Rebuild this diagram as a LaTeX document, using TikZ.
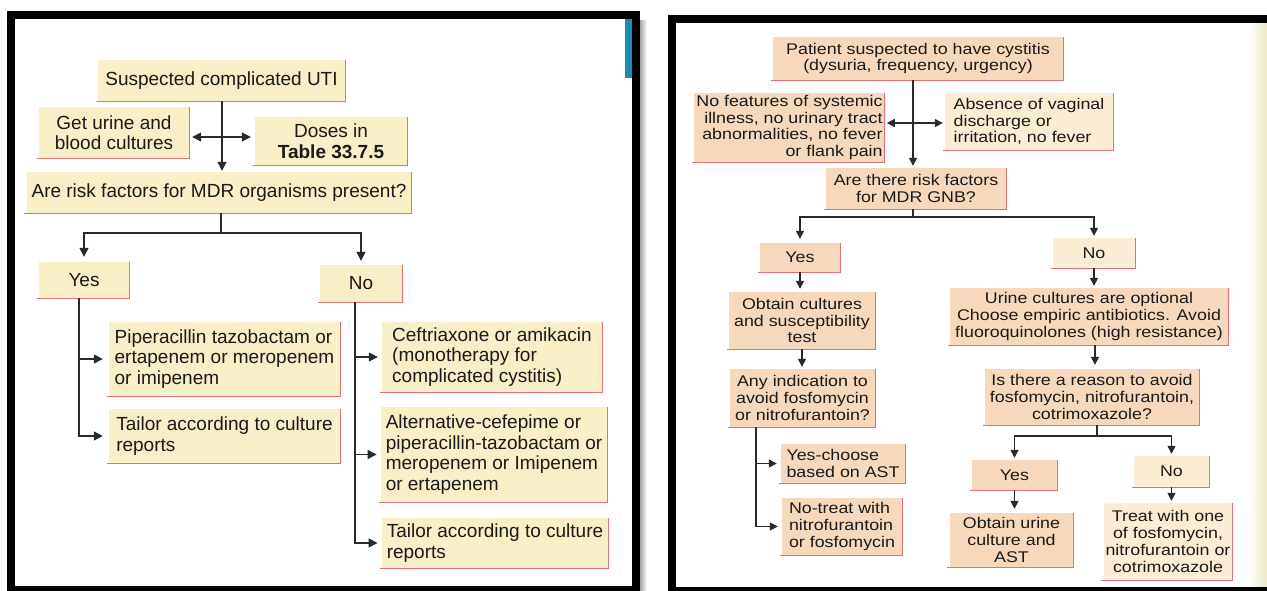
\documentclass[tikz,border=0pt]{standalone}
\usepackage{fontspec}
\setmainfont{Liberation Sans}
\newfontfamily\rfont[FakeStretch=1.15]{Liberation Sans}
\usetikzlibrary{arrows.meta,calc}
\definecolor{lfill}{HTML}{F9EFC6}
\definecolor{rfill}{HTML}{F6D9BC}
\definecolor{rlight}{HTML}{FBECD4}
\definecolor{edgec}{HTML}{E2707A}
\definecolor{linec}{HTML}{2A2A2A}
\definecolor{txt}{HTML}{1A1A1A}
\definecolor{bluebar}{HTML}{1A8BB3}
\definecolor{pageedge}{HTML}{ECE9C8}
\begin{document}
\begin{tikzpicture}[x=1pt,y=-1pt,
  lb/.style={fill=lfill, inner xsep=5pt, inner ysep=2pt, text=txt, font=\fontsize{19}{20.5}\selectfont},
  rb/.style={fill=rfill, inner xsep=2pt, inner ysep=2pt, text=txt, font=\rfont\fontsize{15.5}{16.7}\selectfont},
  rl/.style={rb, fill=rlight},
  redge/.style={draw=edgec, line width=1.3pt},
  ln/.style={draw=linec, line width=1.5pt},
  arr/.style={ln, -{Triangle[length=9pt,width=9pt]}},
  rarr/.style={ln, -{Triangle[length=8pt,width=8pt]}},
  dbl/.style={ln, {Triangle[length=9pt,width=9pt]}-{Triangle[length=9pt,width=9pt]}},
  rdbl/.style={ln, {Triangle[length=8pt,width=8pt]}-{Triangle[length=8pt,width=8pt]}},
]
\clip (0,0) rectangle (1267,590);
\fill[white] (0,0) rectangle (1267,590);

% panel frames
\shade[left color=black!35, right color=white] (640,20) rectangle (647,590);
\draw[line width=8pt, black] (11,15) rectangle (636,590);
\fill[bluebar] (625,19) rectangle (632,78);
\shade[left color=white, right color=pageedge] (1248,23) rectangle (1267,587);
\draw[line width=8pt, black] (672,19) rectangle (1300,591);

% ---------- left panel ----------
\node[lb, minimum width=247, minimum height=41] (lt) at (221.5,80.5) {Suspected complicated UTI};
\node[lb, align=center, minimum width=150, minimum height=51] (lg) at (114,132.5) {Get urine and\\blood cultures};
\node[lb, align=center, minimum width=152, minimum height=48] (ld) at (331,141) {Doses in\\\textbf{Table 33.7.5}};
\node[lb, minimum width=384, minimum height=41] (lq) at (219,192.5) {Are risk factors for MDR organisms present?};
\node[lb, minimum width=90, minimum height=36] (ly) at (84,280) {Yes};
\node[lb, minimum width=82, minimum height=37] (lno) at (361,283.5) {No};
\node[lb, align=left, minimum width=231, minimum height=74] (lp) at (224.5,359) {Piperacillin tazobactam or\\ertapenem or meropenem\\or imipenem};
\node[lb, align=left, minimum width=231, minimum height=54] (lt1) at (224.5,436) {Tailor according to culture\\reports};
\node[lb, align=left, minimum width=220, minimum height=70] (lc) at (492,357) {Ceftriaxone or amikacin\\(monotherapy for\\complicated cystitis)};
\node[lb, align=left, minimum width=222, minimum height=95] (la) at (494,454.5) {Alternative-cefepime or\\piperacillin-tazobactam or\\meropenem or Imipenem\\or ertapenem};
\node[lb, align=left, minimum width=222, minimum height=50] (lt2) at (495,543) {Tailor according to culture\\reports};

% ---------- right panel ----------
\node[rb, align=center, minimum width=290, minimum height=43] (rp) at (918,58.5) {Patient suspected to have cystitis\\(dysuria, frequency, urgency)};
\node[rb, align=right, minimum width=187, minimum height=69] (rn) at (789.5,127.5) {No features of systemic\\illness, no urinary tract\\abnormalities, no fever\\or flank pain};
\node[rl, align=left, minimum width=168, minimum height=57] (ra) at (1029,121.5) {Absence of vaginal\\discharge or\\irritation, no fever};
\node[rb, align=center, minimum width=180, minimum height=41] (rq) at (916,188.5) {Are there risk factors\\for MDR GNB?};
\node[rb, minimum width=80, minimum height=29] (ry) at (800,257.5) {Yes};
\node[rl, minimum width=82, minimum height=30] (rno) at (1094,253) {No};
\node[rb, align=center, minimum width=146, minimum height=57] (ro) at (802,320.5) {Obtain cultures\\and susceptibility\\test};
\node[rb, align=center, minimum width=145, minimum height=58] (ri) at (802.5,398) {Any indication to\\avoid fosfomycin\\or nitrofurantoin?};
\node[rb, align=left, minimum width=124, minimum height=39] (ryc) at (843,463.5) {Yes-choose\\based on AST};
\node[rb, align=left, minimum width=120, minimum height=57] (rnt) at (842,526.5) {No-treat with\\nitrofurantoin\\or fosfomycin};
\node[rb, align=center, minimum width=278, minimum height=57] (ru) at (1089,316.5) {Urine cultures are optional\\Choose empiric antibiotics. Avoid\\fluoroquinolones (high resistance)};
\node[rb, align=center, minimum width=214, minimum height=56] (rr) at (1092,397) {Is there a reason to avoid\\fosfomycin, nitrofurantoin,\\cotrimoxazole?};
\node[rb, minimum width=85, minimum height=30] (ry2) at (1014.5,475) {Yes};
\node[rl, minimum width=75, minimum height=31] (rn2) at (1171.5,471.5) {No};
\node[rb, align=center, minimum width=124, minimum height=54] (rou) at (1011.5,540) {Obtain urine\\culture and\\AST};
\node[rl, align=center, minimum width=128, minimum height=77] (rtr) at (1168,541.5) {Treat with one\\of fosfomycin,\\nitrofurantoin or\\cotrimoxazole};

% red shadow edges
\foreach \n in {lt,lg,ld,lq,ly,lno,lp,lt1,lc,la,lt2,rp,rn,ra,rq,ry,rno,ro,ri,ryc,rnt,ru,rr,ry2,rn2,rou,rtr}
  \draw[redge] (\n.north east) -- (\n.south east) -- ([xshift=-2pt]\n.south west);

% ---------- left connectors ----------
\coordinate (lv) at (222,0);
\coordinate (ldy) at (0,137);
\draw[arr, shorten >=1pt] (lt.south -| lv) -- (lv |- lq.north);
\draw[dbl] ($(lg.east |- ldy)+(3,0)$) -- ($(ld.west |- ldy)+(-4,0)$);
\coordinate (lj) at (221,233);
\draw[ln] (lq.south -| lj) -- (lj);
\draw[arr, shorten >=5pt] (lj) -| (ly.north);
\draw[arr, shorten >=4pt] (lj) -| (lno.north);
\coordinate (lys) at (79,0);
\draw[arr, shorten >=6pt] (ly.south -| lys) |- (lp.west);
\draw[arr, shorten >=6pt] (ly.south -| lys) |- (lt1.west);
\coordinate (lns) at (355,0);
\draw[arr, shorten >=4pt] (lno.south -| lns) |- (lc.west);
\draw[arr, shorten >=4pt] (lno.south -| lns) |- (la.west);
\draw[arr, shorten >=4pt] (lno.south -| lns) |- (lt2.west);

% ---------- right connectors ----------
\coordinate (rv) at (913,0);
\coordinate (rdy) at (0,123);
\draw[rarr, shorten >=2pt] (rp.south -| rv) -- (rv |- rq.north);
\draw[rdbl] ($(rn.east |- rdy)+(2,0)$) -- ($(ra.west |- rdy)+(-2,0)$);
\coordinate (rj) at (913,217);
\draw[ln] (rq.south -| rj) -- (rj);
\draw[rarr, shorten >=4pt] (rj) -| (ry.north);
\draw[rarr, shorten >=2pt] (rj) -| (rno.north);
\draw[rarr, shorten >=3pt] (ry.south) -- (ry.south |- ro.north);
\draw[rarr, shorten >=2pt] (rno.south) -- (rno.south |- ru.north);
\draw[rarr, shorten >=2pt] (ro.south) -- (ro.south |- ri.north);
\coordinate (ris) at (756,0);
\draw[rarr, shorten >=4pt] (ri.south -| ris) |- (ryc.west);
\draw[rarr, shorten >=4pt] (ri.south -| ris) |- (rnt.west);
\coordinate (rw) at (1095,0);
\draw[rarr, shorten >=4pt] (ru.south -| rw) -- (rw |- rr.north);
\coordinate (rk) at (1097,436);
\draw[ln] (rr.south -| rk) -- (rk);
\draw[rarr, shorten >=2pt] (rk) -| (ry2.north);
\draw[rarr, shorten >=2pt] (rk) -| (rn2.north);
\draw[rarr, shorten >=4pt] (ry2.south) -- (ry2.south |- rou.north);
\draw[rarr, shorten >=2pt] (rn2.south) -- (rn2.south |- rtr.north);
\end{tikzpicture}
\end{document}
